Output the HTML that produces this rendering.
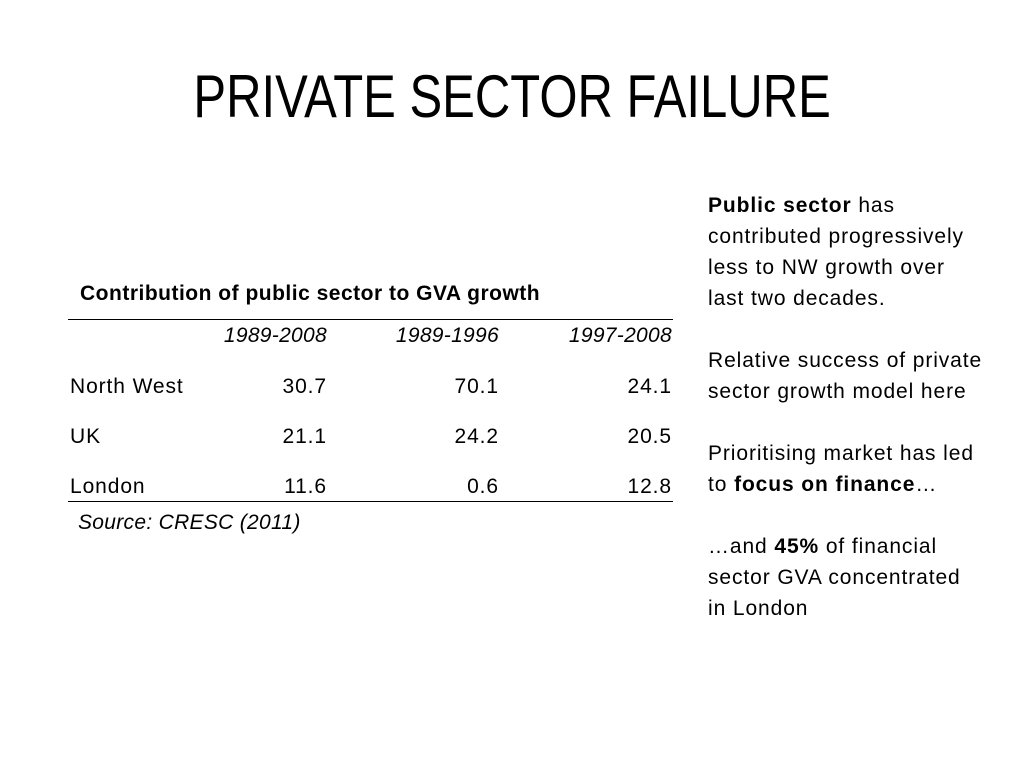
<!DOCTYPE html>
<html>
<head>
<meta charset="utf-8">
<style>
  html,body{margin:0;padding:0;background:#fff;}
  body{width:1024px;height:768px;position:relative;overflow:hidden;font-family:"Liberation Sans",sans-serif;color:#000;}
  .abs{position:absolute;white-space:nowrap;}
  #title{left:0;width:1024px;top:62px;text-align:center;font-size:60px;line-height:70px;}
  #title span{display:inline-block;transform:scaleX(0.817);transform-origin:center;}
  .t{font-size:21px;line-height:22px;letter-spacing:0.9px;}
  .r{text-align:right;}
  .it{font-style:italic;letter-spacing:0.3px;}
  .hr{position:absolute;left:68px;width:605px;height:0;border-top:1.5px solid #000;}
  #side{left:708px;top:190px;font-size:21px;line-height:31px;letter-spacing:0.9px;}
</style>
</head>
<body>
<div id="title" class="abs"><span>PRIVATE SECTOR FAILURE</span></div>

<div class="abs t" style="left:80px;top:283px;font-weight:bold;letter-spacing:0.5px;">Contribution of public sector to GVA growth</div>
<div class="hr" style="top:319px;"></div>

<div class="abs t it r" style="left:157px;width:170px;top:325px;">1989-2008</div>
<div class="abs t it r" style="left:329px;width:170px;top:325px;">1989-1996</div>
<div class="abs t it r" style="left:502px;width:170px;top:325px;">1997-2008</div>

<div class="abs t" style="left:70px;top:376px;">North West</div>
<div class="abs t r" style="left:227px;width:100px;top:376px;">30.7</div>
<div class="abs t r" style="left:399px;width:100px;top:376px;">70.1</div>
<div class="abs t r" style="left:572px;width:100px;top:376px;">24.1</div>

<div class="abs t" style="left:70px;top:426px;">UK</div>
<div class="abs t r" style="left:227px;width:100px;top:426px;">21.1</div>
<div class="abs t r" style="left:399px;width:100px;top:426px;">24.2</div>
<div class="abs t r" style="left:572px;width:100px;top:426px;">20.5</div>

<div class="abs t" style="left:70px;top:476px;">London</div>
<div class="abs t r" style="left:227px;width:100px;top:476px;">11.6</div>
<div class="abs t r" style="left:399px;width:100px;top:476px;">0.6</div>
<div class="abs t r" style="left:572px;width:100px;top:476px;">12.8</div>

<div class="hr" style="top:501px;"></div>
<div class="abs t it" style="left:78px;top:512px;">Source: CRESC (2011)</div>

<div id="side" class="abs">
<b>Public sector</b> has<br>
contributed progressively<br>
less to NW growth over<br>
last two decades.<br>
<br>
Relative success of private<br>
sector growth model here<br>
<br>
Prioritising market has led<br>
to <b>focus on finance</b>…<br>
<br>
…and <b>45%</b> of financial<br>
sector GVA concentrated<br>
in London
</div>
</body>
</html>
